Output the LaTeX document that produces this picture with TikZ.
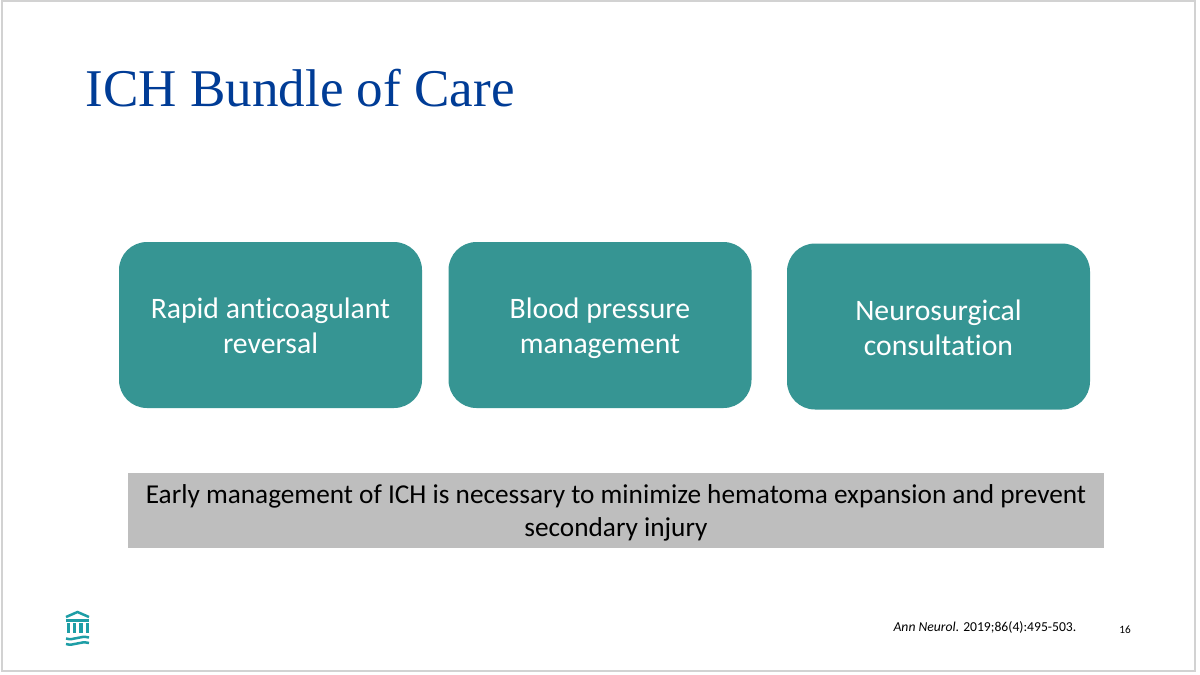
\documentclass[tikz,border=0pt]{standalone}
\usepackage{xcolor}
\usepackage{fontspec}
\setmainfont[Ligatures=NoCommon]{Carlito}
\newfontfamily\titlefont{Liberation Serif}
\definecolor{titleblue}{HTML}{003C96}
\definecolor{boxteal}{HTML}{369593}
\definecolor{notegray}{HTML}{BEBEBE}
\definecolor{logoteal}{HTML}{1E9EA6}
\newcommand{\tallstrut}{\rule{0pt}{9.3pt}}
\tikzset{
	carebox/.style={rectangle,rounded corners=0.28cm,fill=boxteal,text=white,minimum height=1.66cm,minimum width=3.03cm,align=center,font=\fontsize{8.45}{10}\selectfont},
	logobar/.style={fill=logoteal,minimum width=0.033cm,minimum height=0.10cm,inner sep=0pt},
	logoline/.style={logoteal,line width=0.025cm}
}
\begin{document}
\begin{tikzpicture}
	\useasboundingbox (0,0) rectangle (12,6.74);
	\node[rectangle,fill=white,draw=lightgray!70,line width=0.02cm,minimum width=11.93cm,minimum height=6.70cm,inner sep=0pt] (slide) at (5.985,3.38) {};

	\node[anchor=west,text=titleblue,inner sep=0pt,font=\titlefont\fontsize{15.1}{17}\selectfont] (title) at (0.85,5.86) {ICH Bundle of Care};

	\node[carebox] (reversal) at (2.705,3.49) {\tallstrut Rapid anticoagulant\\reversal\strut};
	\node[carebox] (pressure) at (6.0,3.49) {\tallstrut Blood pressure\\management\strut};
	\node[carebox] (surgery) at (9.385,3.475) {\tallstrut Neurosurgical\\consultation\strut};

	\node[rectangle,fill=notegray,minimum width=9.76cm,minimum height=0.75cm,inner sep=0pt] (note) at (6.16,1.635) {};
	\node[align=center,inner sep=0pt,font=\fontsize{7.76}{9.2}\selectfont] (notetext) at (6.16,1.605) {Early management of ICH is necessary to minimize hematoma expansion and prevent\strut\\secondary injury\strut};

	\node[anchor=east,inner sep=0pt,font=\fontsize{3.88}{4.5}\selectfont] (cite) at (10.77,0.47) {\textit{Ann Neurol}. 2019;86(4):495-503.};
	\node[inner sep=0pt,font=\fontsize{3.2}{4}\selectfont] (page) at (11.25,0.445) {16};

	% logo
	\draw[logoline] (0.66,0.57) -- (0.775,0.62) -- (0.89,0.57);
	\draw[logoline] (0.66,0.535) -- (0.89,0.535);
	\node[logobar] (barA) at (0.685,0.46) {};
	\node[logobar] (barB) at (0.745,0.46) {};
	\node[logobar] (barC) at (0.81,0.46) {};
	\node[logobar] (barD) at (0.875,0.46) {};
	\draw[logoline] (0.66,0.355) .. controls (0.74,0.33) and (0.8,0.39) .. (0.89,0.365);
	\draw[logoline] (0.66,0.30) .. controls (0.74,0.275) and (0.8,0.335) .. (0.89,0.31);
\end{tikzpicture}
\end{document}
